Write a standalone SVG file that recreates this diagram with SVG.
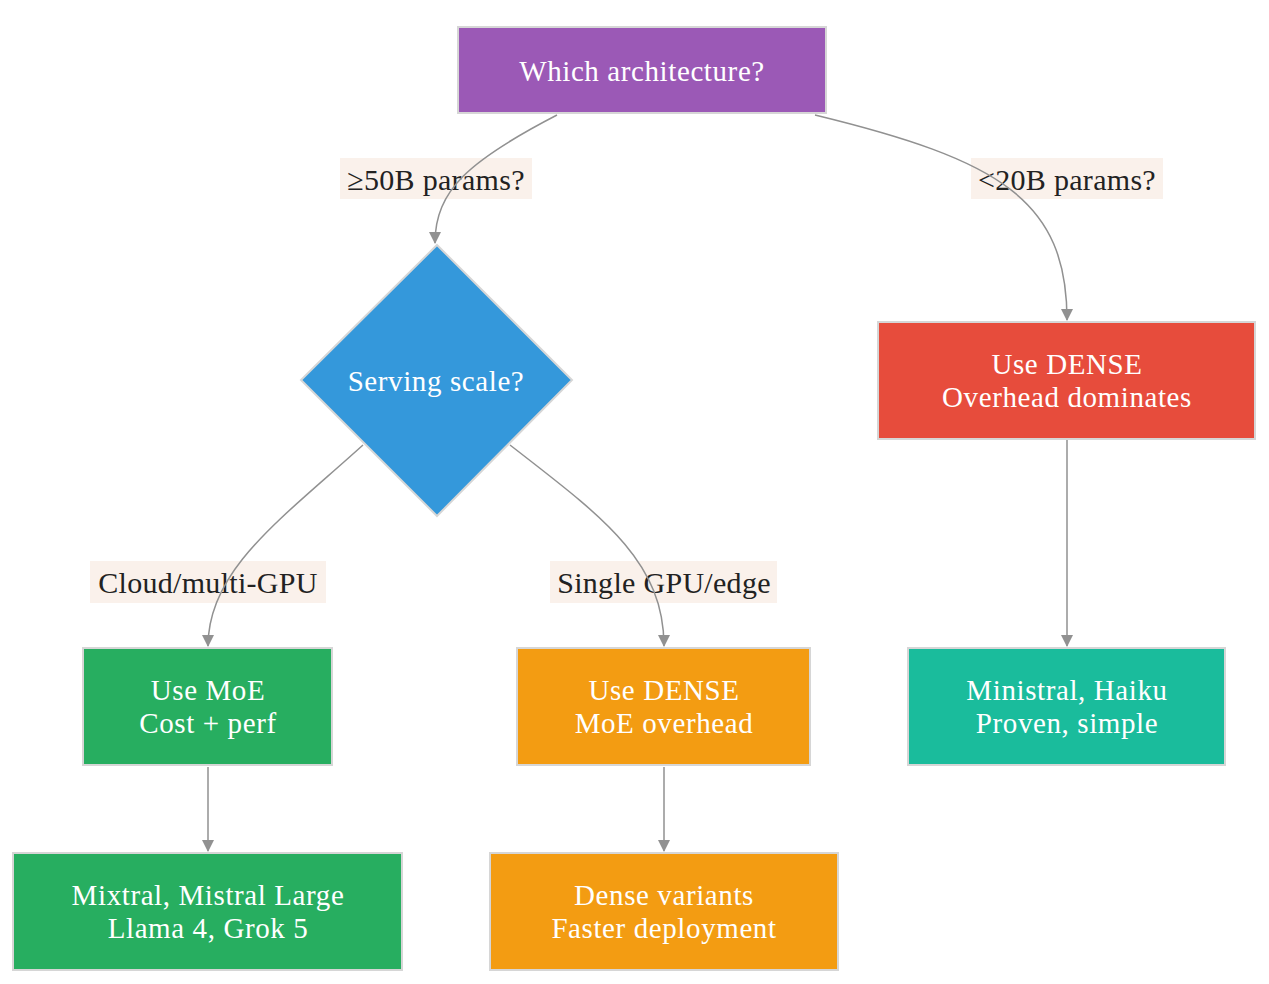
<svg xmlns="http://www.w3.org/2000/svg" width="1269" height="984" viewBox="0 0 1269 984">
<defs>
<marker id="arr" viewBox="0 0 12 12" refX="11" refY="6" markerWidth="12" markerHeight="12" markerUnits="userSpaceOnUse" orient="auto">
<path d="M0,0 L12,6 L0,12 Z" fill="#919191"/>
</marker>
<style>
.nd{stroke:#d6d6d6;stroke-width:2}
.t{font-family:"Liberation Serif","DejaVu Serif",serif;font-size:29px;letter-spacing:0.6px;fill:#ffffff;text-anchor:middle}
.lb{fill:#faf1eb}
.lt{font-family:"Liberation Serif","DejaVu Serif",serif;font-size:30px;letter-spacing:0.3px;fill:#222222;text-anchor:middle}
.e{fill:none;stroke:#919191;stroke-width:1.5;marker-end:url(#arr)}
</style>
</defs>
<rect width="1269" height="984" fill="#ffffff"/>
<g id="edge-labels">
<rect class="lb" x="340" y="158" width="192" height="41"/>
<text class="lt" x="436" y="190">≥50B params?</text>
<rect class="lb" x="971" y="158" width="192" height="41"/>
<text class="lt" x="1067" y="190">&lt;20B params?</text>
<rect class="lb" x="90" y="561" width="236" height="42"/>
<text class="lt" x="208" y="593">Cloud/multi-GPU</text>
<rect class="lb" x="550" y="561" width="227" height="42"/>
<text class="lt" x="664" y="593">Single GPU/edge</text>
</g>
<g id="connectors">
<path class="e" d="M557,115 C470,160 435,190 435,243"/>
<path class="e" d="M815,115 C1000,160 1067,200 1067,320"/>
<path class="e" d="M363,445 C280,520 208,570 208,646"/>
<path class="e" d="M510,445 C600,515 664,560 664,646"/>
<path class="e" d="M1067,440 L1067,646"/>
<path class="e" d="M208,767 L208,851"/>
<path class="e" d="M664,767 L664,851"/>
</g>
<g id="n-arch">
<rect class="nd" x="458" y="27" width="368" height="86" fill="#9b59b6"/>
<text class="t" x="642" y="81">Which architecture?</text>
</g>
<g id="n-scale">
<polygon class="nd" points="437,245 572,380 437,516 301,380" fill="#3498db"/>
<text class="t" x="436" y="391">Serving scale?</text>
</g>
<g id="n-dense-small">
<rect class="nd" x="878" y="322" width="377" height="117" fill="#e74c3c"/>
<text class="t" x="1067" y="374">Use DENSE</text>
<text class="t" x="1067" y="406.5">Overhead dominates</text>
</g>
<g id="n-moe">
<rect class="nd" x="83" y="648" width="249" height="117" fill="#27ae60"/>
<text class="t" x="208" y="700">Use MoE</text>
<text class="t" x="208" y="732.5">Cost + perf</text>
</g>
<g id="n-dense-edge">
<rect class="nd" x="517" y="648" width="293" height="117" fill="#f39c12"/>
<text class="t" x="664" y="700">Use DENSE</text>
<text class="t" x="664" y="732.5">MoE overhead</text>
</g>
<g id="n-ministral">
<rect class="nd" x="908" y="648" width="317" height="117" fill="#1abc9c"/>
<text class="t" x="1067" y="700">Ministral, Haiku</text>
<text class="t" x="1067" y="732.5">Proven, simple</text>
</g>
<g id="n-mixtral">
<rect class="nd" x="13" y="853" width="389" height="117" fill="#27ae60"/>
<text class="t" x="208" y="905">Mixtral, Mistral Large</text>
<text class="t" x="208" y="937.5">Llama 4, Grok 5</text>
</g>
<g id="n-dense-var">
<rect class="nd" x="490" y="853" width="348" height="117" fill="#f39c12"/>
<text class="t" x="664" y="905">Dense variants</text>
<text class="t" x="664" y="937.5">Faster deployment</text>
</g>
</svg>
